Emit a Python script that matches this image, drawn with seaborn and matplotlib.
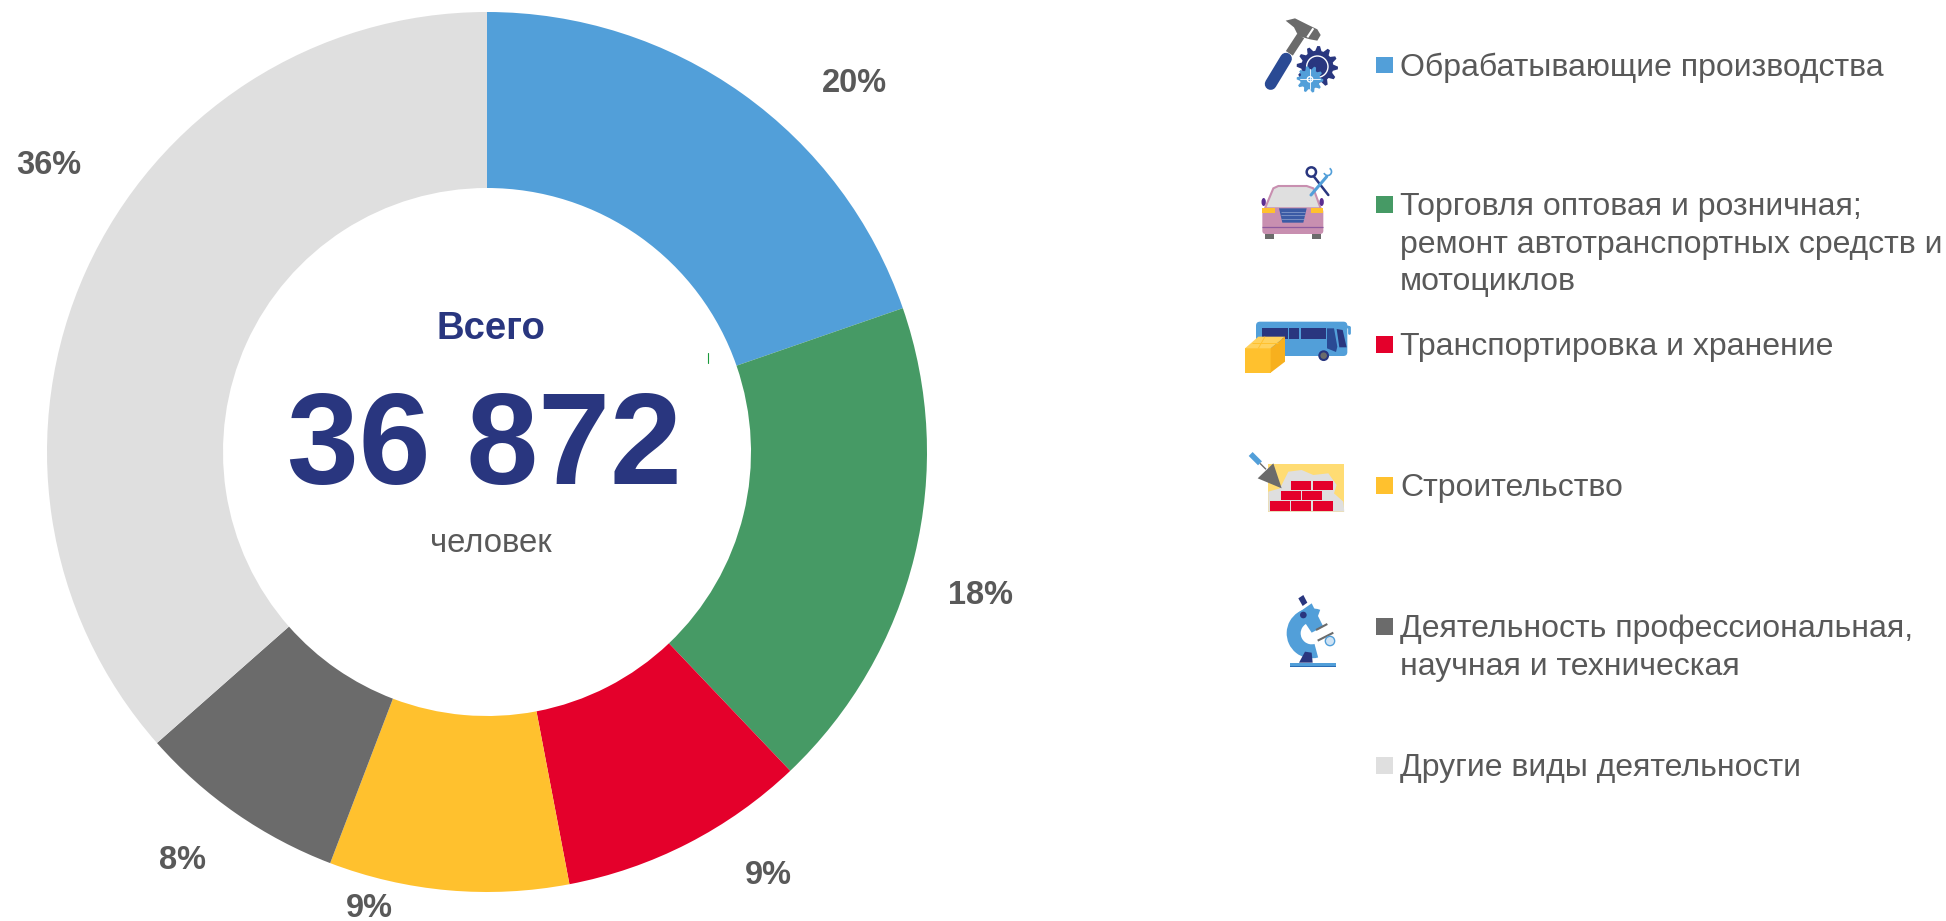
import numpy as np
import seaborn as sns
import matplotlib.pyplot as plt
from matplotlib.patches import Circle, Ellipse, FancyBboxPatch, Polygon, Rectangle, Wedge
from matplotlib.transforms import Affine2D

# Data
categories = [
    "Обрабатывающие производства",
    "Торговля оптовая и розничная;\nремонт автотранспортных средств и\nмотоциклов",
    "Транспортировка и хранение",
    "Строительство",
    "Деятельность профессиональная,\nнаучная и техническая",
    "Другие виды деятельности",
]
shares = [19.7, 18.2, 9.1, 8.8, 7.7, 36.5]
pct_labels = ["20%", "18%", "9%", "9%", "8%", "36%"]
colors = ["#529FD9", "#469A65", "#E4002B", "#FFC12E", "#6B6B6B", "#DFDFDF"]
total_title = "Всего"
total_value = "36 872"
total_unit = "человек"

# Label positions in pixels
pct_xy = [(854, 84), (980, 595), (768, 875), (369, 908), (182, 860), (49, 166)]
legend_y = [76, 215, 355, 496, 637, 776]

NAVY = "#29367F"
TEXT = "#595959"
GREY = "#6B6B6B"
W, H = 1946, 921

sns.set_theme(style="white")
plt.rcParams['font.family'] = ['Liberation Sans', 'DejaVu Sans']

fig = plt.figure(figsize=(W / 100, H / 100), dpi=100)

# Donut
cx, cy, r = 487, 452, 440
ax = fig.add_axes([(cx - r) / W, 1 - (cy + r) / H, 2 * r / W, 2 * r / H])
ax.pie(shares, colors=sns.color_palette(colors), startangle=90, counterclock=False,
       radius=1, wedgeprops={'width': 0.4, 'linewidth': 0})
ax.set_xlim(-1, 1)
ax.set_ylim(-1, 1)

# Overlay in pixel coordinates for text and icons
ov = fig.add_axes([0, 0, 1, 1], facecolor='none')
ov.set_xlim(0, W)
ov.set_ylim(H, 0)
ov.axis('off')

for (x, y), label in zip(pct_xy, pct_labels):
    ov.text(x, y, label, ha='center', va='center', fontsize=23.5, fontweight='bold', color=TEXT)

ov.text(491, 329, total_title, ha='center', va='center', fontsize=27.5, fontweight='bold', color=NAVY)
ov.text(484, 450, total_value, ha='center', va='center', fontsize=93, fontweight='bold', color=NAVY)
ov.text(491, 543, total_unit, ha='center', va='center', fontsize=23.7, color=TEXT)
ov.plot([708, 708], [353, 363], color='#1A9A3A', lw=0.8)

# Legend
for label, color, y in zip(categories, colors, legend_y):
    ov.add_patch(Rectangle((1376, y - 19), 17, 16.5, color=color, lw=0))
    for i, line in enumerate(label.split("\n")):
        ov.text(1400, y + i * 37.5, line, ha='left', va='baseline', fontsize=23, color=TEXT)


# Icons, coordinates are in 3x zoomed pixels around an origin
def icon_tr(ox, oy):
    return Affine2D().scale(1 / 3).translate(ox, oy) + ov.transData


def poly(tr, pts, color, z=3):
    ov.add_patch(Polygon(pts, closed=True, facecolor=color, edgecolor='none', transform=tr, zorder=z))


def box(tr, x0, y0, x1, y1, color, z=3):
    ov.add_patch(Rectangle((x0, y0), x1 - x0, y1 - y0, facecolor=color, edgecolor='none', transform=tr, zorder=z))


def seg(tr, x0, y0, x1, y1, color, lw, z=3, cap='round'):
    ov.plot([x0, x1], [y0, y1], color=color, lw=lw, transform=tr, zorder=z, solid_capstyle=cap)


def gear(tr, x, y, ro, ri, teeth, color, hole, z=3):
    ang = np.linspace(0, 2 * np.pi, teeth * 4, endpoint=False)
    rad = np.tile([ro, ro, ri, ri], teeth)
    poly(tr, np.c_[x + rad * np.cos(ang), y + rad * np.sin(ang)], color, z)
    ov.add_patch(Circle((x, y), hole, facecolor=color, edgecolor='white', lw=1.0, transform=tr, zorder=z))


# hammer and gears
tr = icon_tr(1230, 0)
seg(tr, 122, 252, 168, 176, "#2A4A94", 8.5)
seg(tr, 178, 160, 212, 108, GREY, 6, cap='butt')
poly(tr, [(167, 62), (195, 55), (235, 75), (262, 88), (272, 105), (262, 122), (240, 118),
          (205, 108), (192, 82)], GREY)
seg(tr, 232, 112, 250, 85, "white", 1.5, z=4, cap='butt')
gear(tr, 262, 200, 62, 48, 12, NAVY, 32)
gear(tr, 240, 238, 40, 30, 10, "#529FD9", 8, z=4)
seg(tr, 210, 238, 270, 238, "white", 0.6, z=5)
seg(tr, 240, 208, 240, 268, "white", 0.6, z=5)

# car and tools
ov.add_patch(FancyBboxPatch((97, 625), 183, 77, boxstyle="round,pad=0,rounding_size=10",
                            facecolor="#C88FB0", edgecolor='none', transform=tr, zorder=3))
ov.add_patch(Polygon([(105, 625), (130, 565), (145, 558), (230, 558), (250, 565), (272, 625)], closed=True,
                     facecolor="#DFDFDF", edgecolor="#C88FB0", lw=1.5, transform=tr, zorder=3))
box(tr, 97, 625, 135, 638, "#FFC12E", 4)
box(tr, 242, 625, 280, 638, "#FFC12E", 4)
poly(tr, [(147, 625), (230, 625), (220, 668), (157, 668)], "#3B5BA5", 4)
for gy in (636, 646, 656):
    seg(tr, 152, gy, 226, gy, "#8FA3D0", 0.5, 5, cap='butt')
seg(tr, 97, 680, 280, 680, "#8E5A9E", 0.9, 4, cap='butt')
box(tr, 105, 702, 132, 716, GREY)
box(tr, 245, 702, 272, 716, GREY)
for mx in (101, 275):
    ov.add_patch(Ellipse((mx, 606), 13, 24, color="#5B2D91", transform=tr, zorder=3, lw=0))
seg(tr, 252, 530, 295, 585, NAVY, 1.8, 5)
ov.add_patch(Circle((244, 516), 14, facecolor='white', edgecolor=NAVY, lw=1.8, transform=tr, zorder=5))
seg(tr, 243, 585, 290, 530, "#529FD9", 2.2, 5)
ov.add_patch(Wedge((293, 515), 14, -60, 160, width=5, color="#529FD9", transform=tr, zorder=5, lw=0))

# bus and box
ov.add_patch(FancyBboxPatch((78, 965), 274, 103, boxstyle="round,pad=0,rounding_size=12",
                            facecolor="#529FD9", edgecolor='none', transform=tr, zorder=3))
box(tr, 97, 985, 173, 1017, NAVY, 4)
box(tr, 177, 985, 208, 1017, NAVY, 4)
box(tr, 212, 985, 288, 1017, NAVY, 4)
poly(tr, [(291, 985), (312, 985), (322, 1040), (318, 1056), (291, 1045)], "#2A4A94", 4)
poly(tr, [(320, 987), (338, 990), (350, 1042), (328, 1042)], NAVY, 4)
seg(tr, 336, 977, 357, 982, "#529FD9", 2, 4)
seg(tr, 357, 982, 357, 998, "#529FD9", 2, 4)
ov.add_patch(Circle((281, 1067), 13, facecolor=GREY, edgecolor=NAVY, lw=1.5, transform=tr, zorder=5))
poly(tr, [(45, 1045), (122, 1045), (122, 1118), (45, 1118)], "#FFC12E", 5)
poly(tr, [(45, 1045), (85, 1010), (165, 1010), (122, 1045)], "#FFD25E", 5)
poly(tr, [(122, 1045), (165, 1010), (165, 1085), (122, 1118)], "#F7B01E", 5)
seg(tr, 65, 1028, 145, 1028, "#FFC12E", 0.7, 6, cap='butt')
seg(tr, 105, 1010, 85, 1045, "#FFC12E", 0.7, 6, cap='butt')

# bricks and trowel
tr = icon_tr(1230, 430)
box(tr, 115, 103, 343, 245, "#FFDC73")
poly(tr, [(115, 245), (115, 185), (150, 175), (175, 125), (215, 120), (250, 135), (295, 130), (320, 165),
          (312, 190), (340, 215), (343, 245)], "#DFDFDF", 4)
for (x0, x1, y0, y1) in [(184, 244, 153, 181), (248, 308, 153, 181), (153, 213, 184, 211), (216, 276, 184, 211),
                         (121, 181, 214, 242), (184, 244, 214, 242), (248, 308, 214, 242)]:
    box(tr, x0, y0, x1, y1, "#E4002B", 5)
poly(tr, [(130, 100), (155, 175), (83, 145)], GREY, 6)
seg(tr, 62, 72, 90, 100, "#529FD9", 4, 6, cap='butt')
seg(tr, 90, 100, 108, 118, GREY, 1, 6, cap='butt')

# microscope
ov.add_patch(Wedge((245, 610), 75, 75, 290, width=42, color="#529FD9", transform=tr, zorder=3, lw=0))
poly(tr, [(205, 548), (245, 520), (280, 590), (245, 608)], "#529FD9", 4)
poly(tr, [(205, 505), (220, 495), (232, 518), (218, 528)], NAVY, 4)
ov.add_patch(Circle((220, 555), 10, color=NAVY, transform=tr, zorder=5, lw=0))
seg(tr, 258, 600, 292, 582, GREY, 1.5, 5, cap='butt')
seg(tr, 263, 632, 310, 608, GREY, 1.5, 5, cap='butt')
ov.add_patch(Circle((300, 633), 14, facecolor="#CFE3F4", edgecolor="#529FD9", lw=1, transform=tr, zorder=5))
poly(tr, [(207, 698), (225, 665), (245, 668), (248, 698)], NAVY, 4)
box(tr, 180, 698, 317, 712, "#529FD9", 4)
box(tr, 180, 708, 317, 712, "#2A6DB5", 5)

plt.savefig("out.png", dpi=100)
plt.close()
